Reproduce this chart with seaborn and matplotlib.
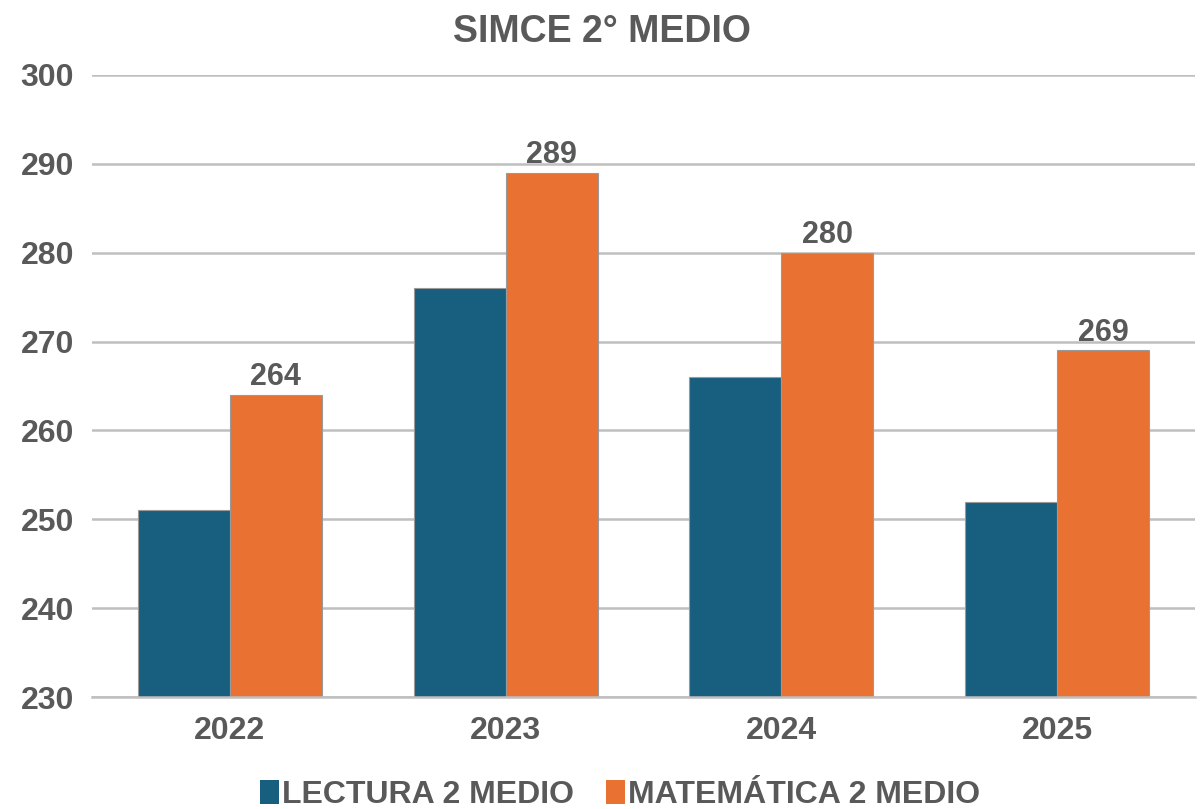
import pandas as pd
import seaborn as sns
import matplotlib.pyplot as plt
from matplotlib import font_manager
from matplotlib.patches import Patch

# SIMCE 2° medio: lectura vs matemática por año

anios = ['2022', '2023', '2024', '2025']
lectura = [251, 276, 266, 252]
matematica = [264, 289, 280, 269]
series = ['LECTURA 2 MEDIO', 'MATEMÁTICA 2 MEDIO']
colores = ['#175e7f', '#e97132']

data = pd.DataFrame({
    'anio': anios * 2,
    'puntaje': lectura + matematica,
    'prueba': [series[0]] * 4 + [series[1]] * 4,
})

sns.set_style('white')
nombres = {f.name for f in font_manager.fontManager.ttflist}
fuente = 'Liberation Sans Narrow' if 'Liberation Sans Narrow' in nombres else 'Liberation Sans'
plt.rcParams['font.family'] = [fuente, 'DejaVu Sans']
gris = '#595959'

fig = plt.figure(figsize=(12.04, 8.09), dpi=100)
ax = fig.add_axes([0.0764, 0.1384, 0.9161, 0.7689])

ax.yaxis.grid(True, color='#bfbfbf', linewidth=1.8, zorder=0)
ax.set_axisbelow(True)

sns.barplot(data=data, x='anio', y='puntaje', hue='prueba', palette=colores,
            saturation=1, width=0.667, gap=0, edgecolor='#9a9a9a', linewidth=0.8,
            legend=False, ax=ax, zorder=2)

ax.set_ylim(230, 300)
ax.set_yticks(range(230, 301, 10))
ax.set_xlim(-0.5, 3.5)
ax.set_xlabel('')
ax.set_ylabel('')
ax.tick_params(axis='both', length=0, labelsize=23, labelcolor=gris)
ax.tick_params(axis='y', pad=13)
ax.tick_params(axis='x', pad=14)
for lbl in ax.get_xticklabels() + ax.get_yticklabels():
    lbl.set_fontweight('bold')

for lado in ['left', 'right', 'top']:
    ax.spines[lado].set_visible(False)
ax.spines['bottom'].set_color('#bfbfbf')
ax.spines['bottom'].set_linewidth(1.8)

ax.bar_label(ax.containers[1], fontsize=22, fontweight='bold', color=gris, padding=2)

fig.text(0.5, 0.948, 'SIMCE 2° MEDIO', ha='center', va='baseline',
         fontsize=27, fontweight='bold', color=gris)

handles = [Patch(facecolor=c, edgecolor='none') for c in colores]
leg = fig.legend(handles, series, loc='lower center', bbox_to_anchor=(0.515, -0.037),
                 ncol=2, frameon=False, handlelength=0.6, handleheight=0.75,
                 handletextpad=0.1, columnspacing=1.0,
                 prop={'size': 23, 'weight': 'bold'})
for t in leg.get_texts():
    t.set_color(gris)

fig.savefig('out.png', dpi=100)
